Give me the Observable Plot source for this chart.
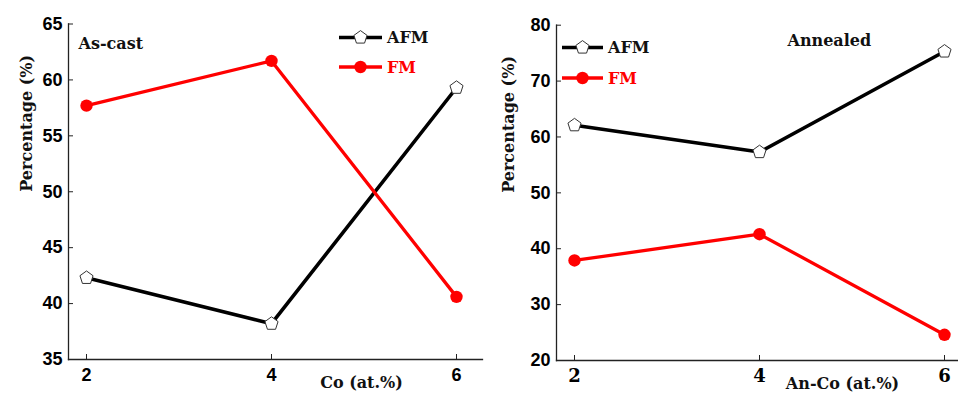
<!DOCTYPE html>
<html>
<head>
<meta charset="utf-8">
<script src="https://cdn.jsdelivr.net/npm/d3@7"></script>
<script src="https://cdn.jsdelivr.net/npm/@observablehq/plot@0.6"></script>
<style>
  body { margin: 0; background: #fff; }
  #wrap { display: flex; width: 958px; height: 394px; overflow: hidden; }
  #wrap svg { flex: none; }
</style>
</head>
<body>
<div id="wrap"></div>
<script>
// Co content (at.%) on the x axis
const coContent = [2, 4, 6];

// Phase percentages (%) for the as-cast samples
const asCastAFM = [42.3, 38.2, 59.3];
const asCastFM  = [57.7, 61.7, 40.6];

// Phase percentages (%) for the annealed samples
const annealedAFM = [62.1, 57.3, 75.3];
const annealedFM  = [37.9, 42.6, 24.6];

// Tick values
const asCastYTicks   = [35, 40, 45, 50, 55, 60, 65];
const annealedYTicks = [20, 30, 40, 50, 60, 70, 80];

const seriesNames = ["AFM", "FM"];
const yTitle = "Percentage (%)";

const SANS = "'Liberation Sans', Arial, sans-serif";
const SERIF = "'DejaVu Serif', serif";
const RED = "#ff0000";
const AXIS = "#222";

// Regular pentagon symbol, pointing up; size is the symbol area
const pentagon = {
  draw(context, size) {
    const R = Math.sqrt(size / 2.3776);
    for (let i = 0; i < 5; ++i) {
      const a = -Math.PI / 2 + i * 2 * Math.PI / 5;
      const px = R * Math.cos(a), py = R * Math.sin(a);
      if (i === 0) context.moveTo(px, py); else context.lineTo(px, py);
    }
    context.closePath();
  }
};

function panel(cfg) {
  const afmData = coContent.map((x, i) => ({x, y: cfg.afm[i]}));
  const fmData = coContent.map((x, i) => ({x, y: cfg.fm[i]}));
  const svg = Plot.plot({
    width: cfg.width,
    height: 394,
    marginLeft: cfg.marginLeft,
    marginRight: cfg.marginRight,
    marginTop: cfg.marginTop,
    marginBottom: cfg.marginBottom,
    style: {background: "transparent", overflow: "visible"},
    x: {domain: [2, 6], insetLeft: cfg.insetLeft, insetRight: cfg.insetRight},
    y: {domain: cfg.yDomain},
    marks: [
      Plot.frame({anchor: "left", stroke: AXIS, strokeWidth: 1.3}),
      Plot.frame({anchor: "bottom", stroke: AXIS, strokeWidth: 1.3}),
      Plot.axisY(cfg.yTicks, {
        tickSize: -5, tickPadding: 11, stroke: AXIS, fill: "black",
        fontSize: 18, fontWeight: "bold", fontFamily: SANS, label: null
      }),
      Plot.axisX(coContent, {
        tickSize: -5, tickPadding: 14, stroke: AXIS, fill: "black",
        fontSize: 18, fontWeight: "bold", fontFamily: cfg.xTickFont, label: null
      }),
      Plot.line(afmData, {x: "x", y: "y", stroke: "black", strokeWidth: 3.6}),
      Plot.line(fmData, {x: "x", y: "y", stroke: RED, strokeWidth: 3.3}),
      Plot.dot(afmData, {x: "x", y: "y", symbol: pentagon, r: 6, fill: "white", stroke: "#333", strokeWidth: 1}),
      Plot.dot(fmData, {x: "x", y: "y", r: 6.2, fill: RED}),
      Plot.text([yTitle], {
        text: d => d, frameAnchor: "left", rotate: -90, dx: cfg.yTitleDx,
        fontSize: 16, fontWeight: "bold", fontFamily: SERIF, fill: "#111"
      }),
      Plot.text([cfg.xTitle], {
        text: d => d, frameAnchor: "bottom", dx: cfg.xTitleDx, dy: 28,
        fontSize: 16, fontWeight: "bold", fontFamily: SERIF, fill: "#111"
      }),
      Plot.text([cfg.caption], {
        text: d => d, frameAnchor: "top-left", textAnchor: "start", lineAnchor: "middle",
        dx: cfg.captionDx, dy: cfg.captionDy,
        fontSize: 16, fontWeight: "bold", fontFamily: SERIF, fill: "#111"
      })
    ]
  });

  // Legend: line sample with marker, then series name
  const lg = d3.select(svg).append("g").attr("class", "legend").attr("text-anchor", "start");
  const L = cfg.legend;
  seriesNames.forEach((name, i) => {
    const y = L.y + i * L.gap;
    const color = i === 0 ? "black" : RED;
    lg.append("line").attr("x1", L.x1).attr("x2", L.x2).attr("y1", y).attr("y2", y)
      .attr("stroke", color).attr("stroke-width", 3.3);
    if (i === 0) {
      lg.append("path").attr("transform", `translate(${(L.x1 + L.x2) / 2},${y})`)
        .attr("d", d3.symbol(pentagon, Math.PI * 36)())
        .attr("fill", "white").attr("stroke", "#333").attr("stroke-width", 1);
    } else {
      lg.append("circle").attr("cx", (L.x1 + L.x2) / 2).attr("cy", y).attr("r", 6.2).attr("fill", RED);
    }
    lg.append("text").attr("x", L.x2 + 5).attr("y", y).attr("dy", "0.35em")
      .attr("text-anchor", "start")
      .attr("font-family", SERIF).attr("font-weight", "bold").attr("font-size", 16)
      .attr("fill", i === 0 ? "#111" : RED).text(name);
  });
  return svg;
}

const wrap = document.getElementById("wrap");

wrap.appendChild(panel({
  width: 485, marginLeft: 68, marginRight: 3, marginTop: 23.5, marginBottom: 35,
  insetLeft: 18, insetRight: 26,
  yDomain: [35, 65], yTicks: asCastYTicks,
  afm: asCastAFM, fm: asCastFM,
  xTickFont: SANS,
  yTitleDx: -42,
  xTitle: "Co (at.%)", xTitleDx: 86,
  caption: "As-cast", captionDx: 10, captionDy: 20,
  legend: {x1: 339, x2: 382, y: 37.5, gap: 29.5}
}));

wrap.appendChild(panel({
  width: 473, marginLeft: 71, marginRight: 0, marginTop: 24.7, marginBottom: 34,
  insetLeft: 18, insetRight: 14,
  yDomain: [20, 80], yTicks: annealedYTicks,
  afm: annealedAFM, fm: annealedFM,
  xTickFont: SERIF,
  yTitleDx: -48,
  xTitle: "An-Co (at.%)", xTitleDx: 85,
  caption: "Annealed", captionDx: 231, captionDy: 15.5,
  legend: {x1: 77, x2: 118, y: 47.5, gap: 30.5}
}));
</script>
</body>
</html>
